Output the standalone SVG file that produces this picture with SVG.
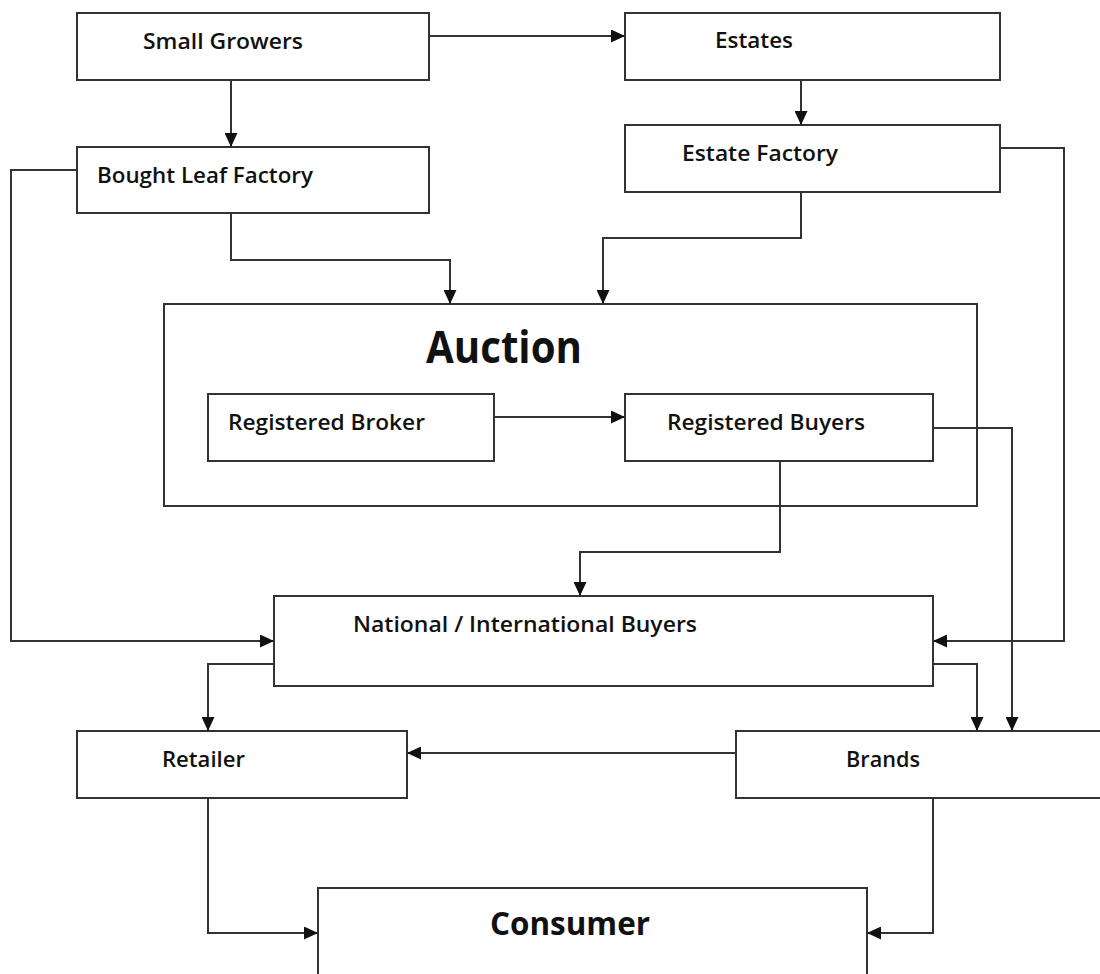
<svg xmlns="http://www.w3.org/2000/svg" width="1100" height="974" viewBox="0 0 1100 974">
<defs>
<style>
.box{fill:#fff;stroke:#333;stroke-width:2}
.lbl{font-family:"Open Sans","Noto Sans","Liberation Sans",sans-serif;font-size:22px;font-weight:600;fill:#111}
.big{font-family:"Open Sans","Noto Sans","Liberation Sans",sans-serif;font-weight:700;fill:#111}
.con{fill:none;stroke:#333;stroke-width:2;marker-end:url(#ah)}
</style>
<marker id="ah" markerUnits="userSpaceOnUse" markerWidth="14" markerHeight="13" refX="14" refY="6.5" orient="auto">
<path d="M0,0 L14,6.5 L0,13 z" fill="#111"/>
</marker>
</defs>
<rect width="1100" height="974" fill="#fff"/>
<g id="small-growers"><rect class="box" x="77" y="13" width="352" height="67"/><text class="lbl" x="143" y="49" textLength="160" lengthAdjust="spacingAndGlyphs">Small Growers</text></g>
<g id="estates"><rect class="box" x="625" y="13" width="375" height="67"/><text class="lbl" x="715" y="48" textLength="78" lengthAdjust="spacingAndGlyphs">Estates</text></g>
<g id="bought-leaf-factory"><rect class="box" x="77" y="147" width="352" height="66"/><text class="lbl" x="97" y="183" textLength="216" lengthAdjust="spacingAndGlyphs">Bought Leaf Factory</text></g>
<g id="estate-factory"><rect class="box" x="625" y="125" width="375" height="67"/><text class="lbl" x="682" y="161" textLength="156" lengthAdjust="spacingAndGlyphs">Estate Factory</text></g>
<g id="auction"><rect class="box" x="164" y="304" width="813" height="202"/><text class="big" x="426" y="363" font-size="44" textLength="156" lengthAdjust="spacingAndGlyphs">Auction</text></g>
<g id="registered-broker"><rect class="box" x="208" y="394" width="286" height="67"/><text class="lbl" x="228" y="430" textLength="197" lengthAdjust="spacingAndGlyphs">Registered Broker</text></g>
<g id="registered-buyers"><rect class="box" x="625" y="394" width="308" height="67"/><text class="lbl" x="667" y="430" textLength="198" lengthAdjust="spacingAndGlyphs">Registered Buyers</text></g>
<g id="national-international-buyers"><rect class="box" x="274" y="596" width="659" height="90"/><text class="lbl" x="353" y="632" textLength="344" lengthAdjust="spacingAndGlyphs">National / International Buyers</text></g>
<g id="retailer"><rect class="box" x="77" y="731" width="330" height="67"/><text class="lbl" x="162" y="767" textLength="83" lengthAdjust="spacingAndGlyphs">Retailer</text></g>
<g id="brands"><rect class="box" x="736" y="731" width="380" height="67"/><text class="lbl" x="846" y="767" textLength="74" lengthAdjust="spacingAndGlyphs">Brands</text></g>
<g id="consumer"><rect class="box" x="318" y="888" width="549" height="100"/><text class="big" x="490" y="935" font-size="32" textLength="160" lengthAdjust="spacingAndGlyphs">Consumer</text></g>
<g id="connectors">
<path class="con" d="M429,36 H625"/>
<path class="con" d="M231,80 V147"/>
<path class="con" d="M801,80 V125"/>
<path class="con" d="M77,170 H11 V641 H274"/>
<path class="con" d="M231,213 V260 H450 V304"/>
<path class="con" d="M801,192 V238 H603 V304"/>
<path class="con" d="M1000,148 H1064 V641 H933"/>
<path class="con" d="M494,417 H625"/>
<path class="con" d="M780,461 V552 H580 V596"/>
<path class="con" d="M933,428 H1012 V731"/>
<path class="con" d="M933,664 H977 V731"/>
<path class="con" d="M274,664 H208 V731"/>
<path class="con" d="M736,753 H407"/>
<path class="con" d="M208,798 V933 H318"/>
<path class="con" d="M933,798 V933 H867"/>
</g>
</svg>
